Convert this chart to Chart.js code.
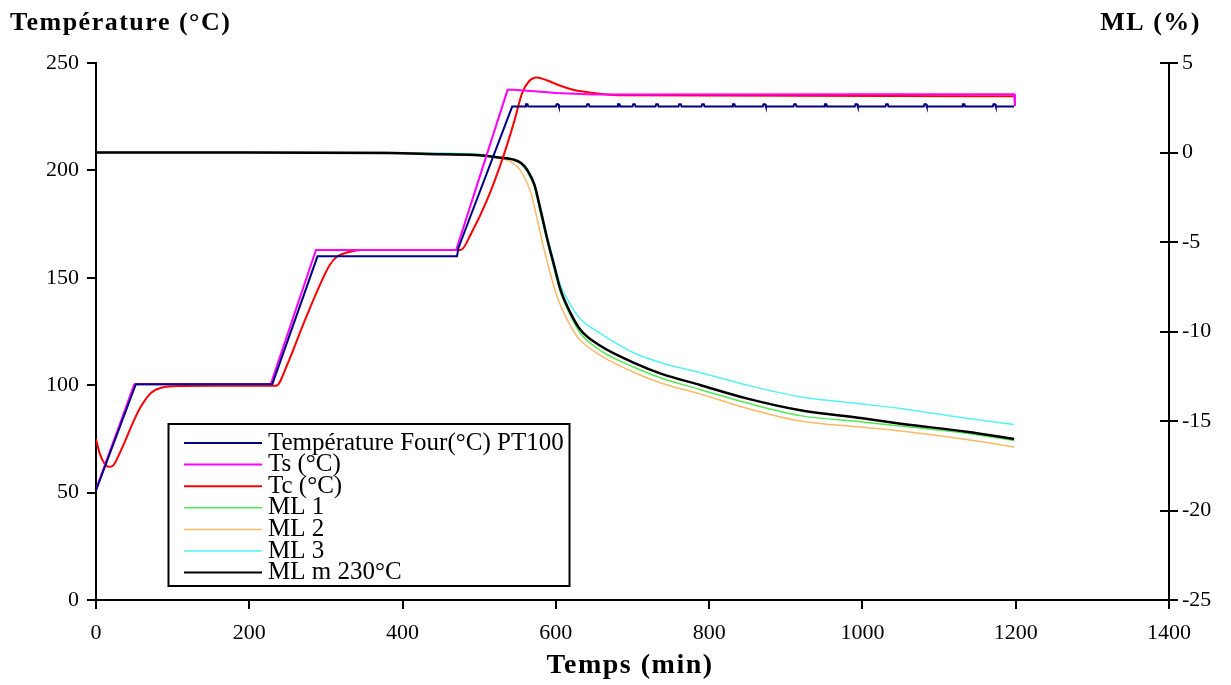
<!DOCTYPE html>
<html><head><meta charset="utf-8">
<script src="https://cdn.jsdelivr.net/npm/chart.js@4.4.0/dist/chart.umd.min.js"></script>
<style>html,body{margin:0;padding:0;background:#fff;overflow:hidden}canvas{display:block}</style>
</head><body>
<canvas id="c" width="1231" height="685"></canvas>
<script>
// ---- data (time in min) ----
const seriesLabels = ['Température Four(°C) PT100', 'Ts (°C)', 'Tc (°C)', 'ML 1', 'ML 2', 'ML 3', 'ML m 230°C'];
const xTicks = [0, 200, 400, 600, 800, 1000, 1200, 1400];
const yLeftTicks = [0, 50, 100, 150, 200, 250];
const yRightTicks = [-25, -20, -15, -10, -5, 0, 5];

const tFour = [0, 52, 230, 289, 471, 473, 543, 560, 561, 563, 564, 600, 601, 603, 604, 640, 641, 643, 644, 680, 681, 683, 684, 700, 701, 703, 704, 730, 731, 733, 734, 760, 761, 763, 764, 790, 791, 793, 794, 830, 831, 833, 834, 870, 871, 873, 874, 910, 911, 913, 914, 950, 951, 953, 954, 990, 991, 993, 994, 1030, 1031, 1033, 1034, 1080, 1081, 1083, 1084, 1130, 1131, 1133, 1134, 1170, 1171, 1173, 1174, 1198];
const vFour = [51, 100.5, 100.5, 160, 160, 164, 229.7, 229.7, 230.8, 230.8, 229.7, 229.7, 230.8, 230.8, 229.7, 229.7, 230.8, 230.8, 229.7, 229.7, 230.8, 230.8, 229.7, 229.7, 230.8, 230.8, 229.7, 229.7, 230.8, 230.8, 229.7, 229.7, 230.8, 230.8, 229.7, 229.7, 230.8, 230.8, 229.7, 229.7, 230.8, 230.8, 229.7, 229.7, 230.8, 230.8, 229.7, 229.7, 230.8, 230.8, 229.7, 229.7, 230.8, 230.8, 229.7, 229.7, 230.8, 230.8, 229.7, 229.7, 230.8, 230.8, 229.7, 229.7, 230.8, 230.8, 229.7, 229.7, 230.8, 230.8, 229.7, 229.7, 230.8, 230.8, 229.7, 229.7];

const tTs = [0, 50, 228, 287, 470, 537, 545, 585, 600, 650, 1000, 1198, 1199];
const vTs = [51.5, 100.5, 100.5, 163, 163, 237.5, 237.5, 236.5, 236, 235.3, 235.5, 235.5, 230];

const tTc = [0, 5, 12, 17, 22, 33, 50, 59, 72, 85, 111, 150, 235, 250, 270, 290, 305, 315, 330, 345, 476, 490, 510, 530, 545, 556, 565, 575, 588, 605, 624, 650, 680, 1198];
const vTc = [75, 68, 63, 62, 62.5, 70, 84, 90.3, 96.5, 98.8, 99.6, 99.7, 99.7, 110, 128, 145, 156, 160, 162, 163, 163, 171, 186, 205, 222, 236, 241.5, 243.3, 242, 239.5, 237.4, 236, 235, 234.5];

const tML1 = [0, 380, 450, 500, 525, 545, 555, 563, 572, 580, 589, 598, 606, 619, 632, 658, 702, 737, 789, 850, 919, 1000, 1050, 1136, 1198];
const vML1 = [0, 0, -0.08, -0.13, -0.25, -0.42, -0.65, -1.1, -1.95, -3.4, -5.0, -6.5, -7.8, -9.1, -10.1, -11.05, -12.0, -12.6, -13.25, -14.0, -14.7, -15.05, -15.28, -15.68, -16.1];

const tML2 = [0, 380, 450, 500, 525, 540, 550, 558, 567, 575, 584, 593, 602, 615, 628, 655, 700, 735, 789, 850, 919, 1000, 1050, 1136, 1198];
const vML2 = [0, 0, -0.08, -0.15, -0.3, -0.5, -0.8, -1.3, -2.2, -3.6, -5.3, -6.8, -8.1, -9.35, -10.3, -11.25, -12.25, -12.85, -13.5, -14.3, -15.0, -15.35, -15.56, -16.03, -16.45];

const tML3 = [0, 380, 450, 500, 525, 545, 555, 563, 572, 580, 589, 598, 606, 619, 632, 658, 702, 745, 789, 850, 919, 1000, 1050, 1136, 1198];
const vML3 = [0, 0, -0.03, -0.1, -0.25, -0.38, -0.58, -0.95, -1.75, -3.1, -4.75, -6.2, -7.4, -8.5, -9.3, -10.1, -11.2, -11.84, -12.3, -13.0, -13.65, -14.05, -14.3, -14.85, -15.2];

const tMLm = [0, 200, 380, 450, 500, 525, 545, 555, 563, 572, 580, 589, 598, 606, 619, 632, 658, 702, 737, 789, 850, 919, 1000, 1050, 1136, 1198];
const vMLm = [0, 0, -0.03, -0.1, -0.15, -0.28, -0.4, -0.6, -1.0, -1.8, -3.2, -4.87, -6.36, -7.66, -8.96, -9.9, -10.8, -11.75, -12.35, -13.0, -13.75, -14.4, -14.85, -15.15, -15.6, -16.0];

const pts = (t, v) => t.map((x, i) => ({x: x, y: v[i]}));

const colors = ['#000080', '#FF00FF', '#FF0000', '#55E855', '#FFB866', '#55F2F2', '#000000'];
const widths = [2, 2, 2, 1.5, 1.5, 1.5, 2.5];
const smooth = [false, false, true, true, true, true, true];

const SERIF = '"Liberation Serif", "Times New Roman", serif';

const data = {
  datasets: [
    {label: seriesLabels[0], data: pts(tFour, vFour), yAxisID: 'y', order: 0},
    {label: seriesLabels[1], data: pts(tTs, vTs), yAxisID: 'y', order: 0},
    {label: seriesLabels[2], data: pts(tTc, vTc), yAxisID: 'y', order: 0},
    {label: seriesLabels[3], data: pts(tML1, vML1), yAxisID: 'y2', order: 2},
    {label: seriesLabels[4], data: pts(tML2, vML2), yAxisID: 'y2', order: 3},
    {label: seriesLabels[5], data: pts(tML3, vML3), yAxisID: 'y2', order: 4},
    {label: seriesLabels[6], data: pts(tMLm, vMLm), yAxisID: 'y2', order: 1}
  ].map((d, i) => Object.assign(d, {
    borderColor: colors[i], backgroundColor: colors[i], borderWidth: widths[i],
    pointRadius: 0, fill: false,
    cubicInterpolationMode: smooth[i] ? 'monotone' : 'default', tension: 0
  }))
};

const overlay = {
  id: 'overlay',
  afterDraw(chart) {
    const ctx = chart.ctx;
    const ca = chart.chartArea;
    const y2 = chart.scales.y2;
    ctx.save();
    ctx.strokeStyle = '#000'; ctx.lineWidth = 2;
    yRightTicks.forEach(v => {
      const y = Math.round(y2.getPixelForValue(v));
      ctx.beginPath(); ctx.moveTo(ca.right - 9, y); ctx.lineTo(ca.right, y); ctx.stroke();
    });
    // titles
    ctx.fillStyle = '#000';
    ctx.textBaseline = 'middle';
    ctx.font = 'bold 26px ' + SERIF;
    try { ctx.letterSpacing = '1.5px'; } catch (e) {}
    ctx.textAlign = 'left';
    ctx.fillText('Température (°C)', 10, 23);
    ctx.textAlign = 'right';
    ctx.fillText('ML (%)', 1201, 23);
    ctx.font = 'bold 28px ' + SERIF;
    ctx.textAlign = 'center';
    try { ctx.letterSpacing = '1.5px'; } catch (e) {}
    ctx.fillText('Temps (min)', 630, 666);
    try { ctx.letterSpacing = '0px'; } catch (e) {}
    // legend
    const bx = 168.5, by = 424, bw = 401, bh = 162;
    ctx.fillStyle = '#fff';
    ctx.fillRect(bx, by, bw, bh);
    ctx.strokeStyle = '#000'; ctx.lineWidth = 2;
    ctx.strokeRect(bx, by, bw, bh);
    ctx.font = '25px ' + SERIF;
    ctx.textAlign = 'left';
    chart.data.datasets.forEach((ds, i) => {
      const y = 443 + i * 21.6;
      ctx.strokeStyle = ds.borderColor; ctx.lineWidth = Math.min(ds.borderWidth, 2);
      ctx.beginPath(); ctx.moveTo(184, y); ctx.lineTo(262, y); ctx.stroke();
      ctx.fillStyle = '#000';
      ctx.fillText(ds.label, 268, y);
    });
    ctx.restore();
  }
};

const tickFont = {family: SERIF, size: 22};
const gridCfg = {display: true, drawOnChartArea: false, drawTicks: true, tickLength: 9, color: '#000', lineWidth: 2};
const borderCfg = {display: true, color: '#000', width: 2};
const plain = v => String(v);

new Chart(document.getElementById('c'), {
  type: 'line',
  data: data,
  options: {
    responsive: false, animation: false, devicePixelRatio: 1,
    layout: {padding: {top: 63, left: 0, right: 0, bottom: 0}},
    plugins: {legend: {display: false}, tooltip: {enabled: false}, title: {display: false}},
    scales: {
      x: {
        type: 'linear', position: 'bottom', min: 0, max: 1400,
        afterBuildTicks: s => { s.ticks = xTicks.map(v => ({value: v})); },
        afterFit: s => { s.height = 85; },
        ticks: {font: tickFont, color: '#000', padding: 11, maxRotation: 0, callback: plain},
        grid: gridCfg, border: borderCfg,
        title: {display: false}
      },
      y: {
        type: 'linear', position: 'left', min: 0, max: 250,
        afterBuildTicks: s => { s.ticks = yLeftTicks.map(v => ({value: v})); },
        afterFit: s => { s.width = 96; },
        ticks: {font: tickFont, color: '#000', padding: 8, callback: plain},
        grid: gridCfg, border: borderCfg
      },
      y2: {
        type: 'linear', position: 'right', min: -25, max: 5,
        afterBuildTicks: s => { s.ticks = yRightTicks.map(v => ({value: v})); },
        afterFit: s => { s.width = 62; },
        ticks: {font: tickFont, color: '#000', padding: 4, callback: plain},
        grid: gridCfg, border: borderCfg
      }
    }
  },
  plugins: [overlay]
});
</script>
</body></html>
